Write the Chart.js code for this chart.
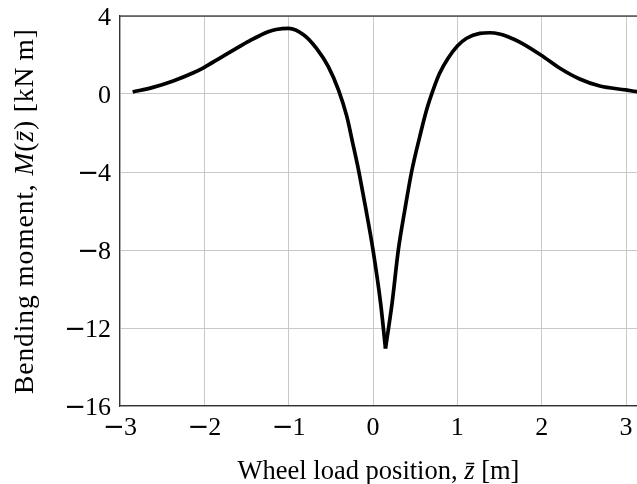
<!DOCTYPE html>
<html>
<head>
<meta charset="utf-8">
<script src="https://cdn.jsdelivr.net/npm/chart.js@4.4.1/dist/chart.umd.min.js"></script>
<style>
  html, body { margin: 0; padding: 0; background: #fff; }
  #wrap { width: 637px; height: 484px; }
</style>
</head>
<body>
<div id="wrap"><canvas id="momentChart"></canvas></div>
<script>
// Bending moment vs. wheel load position
const zPos = [-2.85, -2.61, -2.37, -2.13, -2.0, -1.82, -1.58, -1.45, -1.34, -1.25,
              -1.15, -1.0, -0.82, -0.67, -0.53, -0.41, -0.31, -0.24, -0.18, -0.14,
              -0.09, 0.0, 0.09, 0.148, 0.226, 0.30, 0.377, 0.457, 0.555, 0.635,
              0.713, 0.79, 0.89, 1.0, 1.11, 1.267, 1.385, 1.50, 1.60, 1.74,
              1.99, 2.216, 2.45, 2.69, 2.995, 3.14];
const moment = [0.10, 0.34, 0.67, 1.09, 1.37, 1.83, 2.44, 2.76, 3.0, 3.18,
                3.31, 3.37, 3.03, 2.34, 1.40, 0.21, -1.16, -2.53, -3.73, -4.62,
                -5.78, -8.0, -10.73, -13.05, -10.73, -8.0, -5.95, -4.0, -2.17, -0.82,
                0.21, 1.06, 1.83, 2.46, 2.86, 3.11, 3.14, 3.08, 2.94, 2.66,
                2.0, 1.32, 0.77, 0.41, 0.21, 0.11];
const xTicks = [-3, -2, -1, 0, 1, 2, 3];
const yTicks = [4, 0, -4, -8, -12, -16];

const SERIF = "'Liberation Serif', 'Times New Roman', serif";
const MINUS_FONT = "'DejaVu Sans', sans-serif";
const LABEL_SIZE = 26;

// split at the kink so the spline keeps a sharp tip
const points = zPos.map((z, i) => ({ x: z, y: moment[i] }));
const tip = moment.indexOf(Math.min(...moment));
const leftBranch = points.slice(0, tip + 1);
const rightBranch = points.slice(tip);

// draws text parts (some italic) centred on the current origin
function drawRich(ctx, parts, size) {
    let total = 0;
    parts.forEach(p => {
        ctx.font = (p.italic ? 'italic ' : '') + size + 'px ' + SERIF;
        p.w = ctx.measureText(p.text).width;
        total += p.w;
    });
    let x = -total / 2;
    parts.forEach(p => {
        ctx.font = (p.italic ? 'italic ' : '') + size + 'px ' + SERIF;
        ctx.fillText(p.text, x, 0);
        x += p.w;
    });
}

// tick number with a wide math-style minus sign
function drawNumber(ctx, v, x, y, align) {
    const digits = String(Math.abs(v));
    ctx.font = LABEL_SIZE + 'px ' + SERIF;
    const dw = ctx.measureText(digits).width;
    let mw = 0;
    if (v < 0) {
        ctx.font = LABEL_SIZE + 'px ' + MINUS_FONT;
        mw = ctx.measureText('\u2212').width - 1;
    }
    const start = align === 'right' ? x - mw - dw : x - (mw + dw) / 2;
    if (v < 0) {
        ctx.font = LABEL_SIZE + 'px ' + MINUS_FONT;
        ctx.fillText('\u2212', start, y);
    }
    ctx.font = LABEL_SIZE + 'px ' + SERIF;
    ctx.fillText(digits, start + mw, y);
}

const axisText = {
    id: 'axisText',
    afterDraw(chart) {
        const { ctx, chartArea, scales } = chart;
        ctx.save();
        ctx.fillStyle = '#000';
        ctx.textBaseline = 'alphabetic';
        ctx.textAlign = 'left';

        xTicks.forEach(v => drawNumber(ctx, v, scales.x.getPixelForValue(v), chartArea.bottom + 29, 'center'));
        yTicks.forEach(v => drawNumber(ctx, v, 111, scales.y.getPixelForValue(v) + 9, 'right'));

        ctx.save();
        ctx.translate((chartArea.left + chartArea.right) / 2, 479);
        drawRich(ctx, [
            { text: 'Wheel load position, ' },
            { text: 'z\u0304', italic: true },
            { text: ' [m]' }
        ], 26.5);
        ctx.restore();

        ctx.save();
        ctx.translate(33, (chartArea.top + chartArea.bottom) / 2);
        ctx.rotate(-Math.PI / 2);
        ctx.letterSpacing = '0.9px';
        drawRich(ctx, [
            { text: 'Bending moment, ' },
            { text: 'M', italic: true },
            { text: '(' },
            { text: 'z\u0304', italic: true },
            { text: ') [kN\u2009m]' }
        ], 27.5);
        ctx.restore();

        // top edge of the frame
        ctx.strokeStyle = '#000';
        ctx.lineWidth = 1.2;
        ctx.beginPath();
        ctx.moveTo(chartArea.left, chartArea.top);
        ctx.lineTo(chartArea.right, chartArea.top);
        ctx.stroke();
        ctx.restore();
    }
};

new Chart(document.getElementById('momentChart'), {
    type: 'line',
    data: {
        datasets: [
            { data: leftBranch },
            { data: rightBranch }
        ]
    },
    options: {
        responsive: true,
        maintainAspectRatio: false,
        animation: false,
        layout: { padding: { top: 16, right: 0, bottom: 0, left: 0 } },
        plugins: { legend: { display: false }, tooltip: { enabled: false } },
        elements: {
            point: { radius: 0 },
            line: { borderWidth: 3.7, borderColor: '#000', cubicInterpolationMode: 'monotone', fill: false }
        },
        scales: {
            x: {
                type: 'linear',
                min: -3,
                max: 3.13,
                afterBuildTicks: s => { s.ticks = xTicks.map(v => ({ value: v })); },
                afterFit: s => { s.height = 78; },
                grid: { color: '#c8c8c8', drawTicks: false },
                border: { color: '#333', width: 1.2 },
                ticks: { display: false }
            },
            y: {
                type: 'linear',
                min: -16,
                max: 4,
                afterBuildTicks: s => { s.ticks = yTicks.map(v => ({ value: v })); },
                afterFit: s => { s.width = 120; },
                grid: { color: '#c8c8c8', drawTicks: false },
                border: { color: '#333', width: 1.2 },
                ticks: { display: false }
            }
        }
    },
    plugins: [axisText]
});
</script>
</body>
</html>
